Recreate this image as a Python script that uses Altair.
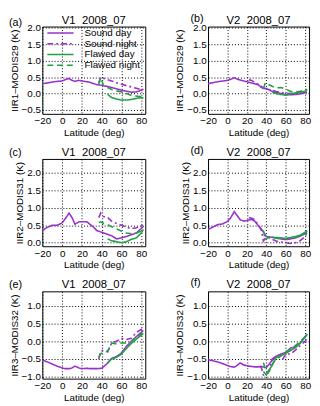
import altair as alt
import pandas as pd

FONT = "Liberation Sans"
SERIES = ["Sound day", "Sound night", "Flawed day", "Flawed night"]
COLORS = ["#9932cc", "#9932cc", "#22a046", "#22a046"]
DASHES = [[1, 0], [6, 3, 2, 3], [1, 0], [6, 4]]

X_TICKS = [-20, 0, 20, 40, 60, 80]

# Latitude grids
LAT_DAY = [-20, -15, -10, -5, 0, 3, 7, 10, 13, 17, 20, 25, 28, 32, 35, 40, 45, 50, 55, 60, 65, 70, 75, 80, 82]
LAT_NIGHT_V1 = [37, 39, 42, 46, 50, 55, 60, 65, 70, 75, 80, 82]
LAT_NIGHT_V2 = [22, 25, 28, 32, 35, 37, 40, 43, 46, 50, 55, 60, 65, 70, 75, 80, 82]
LAT_NIGHT_F = [33, 35, 37, 40, 43, 46, 50, 55, 57, 60, 65, 70, 75, 80, 82]
LAT_FLAWED_DAY = [46, 48, 50, 55, 60, 65, 70, 75, 80, 82]
LAT_FLAWED_DAY_F = [37, 40, 43, 46, 50, 55, 60, 65, 70, 75, 80, 82]
LAT_FLAWED_NIGHT = [37, 39, 42, 46, 50, 55, 60, 65, 70, 75, 80, 82]

# (a) V1 IIR1-MODIS29
A_SOUND_DAY = [0.30, 0.32, 0.35, 0.37, 0.38, 0.42, 0.46, 0.40, 0.37, 0.40, 0.38, 0.36, 0.34, 0.30, 0.27, 0.25, 0.22, 0.18, 0.14, 0.10, 0.07, 0.04, 0.05, 0.10, 0.13]
A_SOUND_NIGHT = [0.32, 0.50, 0.46, 0.42, 0.38, 0.33, 0.28, 0.24, 0.20, 0.16, 0.12, 0.12]
A_FLAWED_DAY = [-0.02, -0.08, -0.12, -0.17, -0.20, -0.20, -0.18, -0.15, -0.12, -0.15]
A_FLAWED_NIGHT = [0.28, 0.48, 0.22, 0.18, 0.12, 0.08, 0.05, 0.0, -0.06, -0.08, -0.10, -0.12]

# (b) V2 IIR1-MODIS29
B_SOUND_DAY = [0.30, 0.33, 0.36, 0.38, 0.40, 0.43, 0.48, 0.44, 0.41, 0.38, 0.36, 0.32, 0.30, 0.26, 0.18, 0.15, 0.08, 0.03, 0.0, -0.04, -0.04, -0.03, -0.01, 0.03, 0.04]
B_SOUND_NIGHT = [0.42, 0.40, 0.33, 0.28, 0.22, 0.15, 0.14, 0.12, 0.10, 0.06, 0.03, 0.01, 0.0, 0.0, 0.01, 0.04, 0.06]
B_FLAWED_DAY = [0.06, 0.02, 0.0, -0.03, -0.05, -0.01, 0.02, 0.04, 0.07, 0.10]
B_FLAWED_NIGHT = [0.15, 0.33, 0.28, 0.22, 0.17, 0.18, 0.14, 0.06, 0.05, 0.07, 0.10, 0.13]

# (c) V1 IIR2-MODIS31
C_SOUND_DAY = [0.35, 0.44, 0.50, 0.50, 0.57, 0.68, 0.85, 0.72, 0.53, 0.60, 0.60, 0.60, 0.53, 0.44, 0.35, 0.30, 0.25, 0.20, 0.11, 0.14, 0.18, 0.23, 0.28, 0.41, 0.46]
C_SOUND_NIGHT = [0.72, 0.85, 0.75, 0.72, 0.62, 0.55, 0.50, 0.45, 0.40, 0.43, 0.48, 0.52]
C_FLAWED_DAY = [0.12, 0.08, 0.06, 0.03, 0.0, 0.03, 0.10, 0.14, 0.28, 0.38]
C_FLAWED_NIGHT = [0.58, 0.60, 0.55, 0.52, 0.46, 0.40, 0.33, 0.28, 0.26, 0.28, 0.33, 0.37]

# (d) V2 IIR2-MODIS31
D_SOUND_DAY = [0.38, 0.45, 0.52, 0.54, 0.61, 0.70, 0.89, 0.78, 0.66, 0.62, 0.64, 0.67, 0.62, 0.48, 0.39, 0.18, 0.16, 0.14, 0.11, 0.09, 0.11, 0.14, 0.19, 0.26, 0.28]
D_SOUND_NIGHT = [0.72, 0.70, 0.66, 0.50, 0.35, 0.05, 0.16, 0.14, 0.10, 0.05, 0.02, 0.0, -0.02, 0.0, 0.06, 0.18, 0.30]
D_FLAWED_DAY = [0.16, 0.15, 0.15, 0.14, 0.12, 0.15, 0.18, 0.22, 0.30, 0.35]
D_FLAWED_NIGHT = [0.35, 0.08, 0.16, 0.15, 0.13, 0.12, 0.12, 0.13, 0.16, 0.20, 0.26, 0.33]

# (e) V1 IIR3-MODIS32
E_SOUND_DAY = [-0.53, -0.58, -0.64, -0.70, -0.75, -0.77, -0.77, -0.75, -0.70, -0.75, -0.77, -0.76, -0.77, -0.77, -0.77, -0.76, -0.64, -0.48, -0.43, -0.33, -0.14, 0.0, 0.13, 0.25, 0.30]
E_SOUND_NIGHT = [-0.50, -0.28, -0.25, -0.30, -0.05, 0.0, 0.08, 0.05, 0.08, 0.25, 0.33, 0.38]
E_FLAWED_DAY = [-0.62, -0.55, -0.50, -0.45, -0.36, -0.20, -0.06, 0.06, 0.17, 0.22]
E_FLAWED_NIGHT = [-0.45, -0.35, -0.32, -0.28, -0.05, -0.08, -0.05, -0.05, 0.0, 0.12, 0.20, 0.26]

# (f) V2 IIR3-MODIS32
F_SOUND_DAY = [-0.52, -0.55, -0.58, -0.63, -0.68, -0.71, -0.73, -0.68, -0.61, -0.67, -0.69, -0.71, -0.72, -0.72, -0.71, -0.74, -0.57, -0.42, -0.36, -0.32, -0.19, -0.16, -0.05, 0.13, 0.20]
F_SOUND_NIGHT = [-0.70, -0.75, -0.95, -0.90, -0.85, -0.50, -0.42, -0.45, -0.50, -0.36, -0.36, -0.25, -0.12, 0.0, 0.10]
F_FLAWED_DAY = [-0.85, -0.95, -0.80, -0.68, -0.46, -0.40, -0.34, -0.26, -0.18, -0.05, 0.12, 0.20]
F_FLAWED_NIGHT = [-0.60, -0.80, -0.88, -0.65, -0.50, -0.42, -0.30, -0.22, -0.12, 0.0, 0.12, 0.18]

W_LEFT = 105
W_RIGHT = 103
H = 89


def panel(letter, title, ytitle, ydomain, yticks, data, width, label_x, label_y, show_legend=False):
    rows = []
    for name, lats, vals in data:
        for la, v in zip(lats, vals):
            rows.append({"series": name, "lat": la, "val": v})
    df = pd.DataFrame(rows)
    if show_legend:
        leg = alt.Legend(orient="none", legendX=4, legendY=1, title=None,
                         symbolType="stroke", symbolSize=720, symbolStrokeWidth=1.6,
                         labelFontSize=10, labelFont=FONT, labelColor="black",
                         labelOffset=10, rowPadding=0, padding=0, clipHeight=11)
    else:
        leg = None
    color = alt.Color("series:N", scale=alt.Scale(domain=SERIES, range=COLORS), legend=leg)
    dash = alt.StrokeDash("series:N", scale=alt.Scale(domain=SERIES, range=DASHES), legend=leg)
    lines = alt.Chart(df).mark_line(strokeWidth=1.6, clip=True).encode(
        x=alt.X("lat:Q", scale=alt.Scale(domain=[-20, 84], nice=False, zero=False),
                axis=alt.Axis(values=X_TICKS, title="Latitude (deg)", format="d",
                              labelFlush=False, labelOverlap=False)),
        y=alt.Y("val:Q", scale=alt.Scale(domain=ydomain, nice=False, zero=False),
                axis=alt.Axis(values=yticks, title=ytitle, format=".1f",
                              labelFlush=False, labelOverlap=False)),
        color=color,
        strokeDash=dash,
        order=alt.Order("lat:Q"),
    )
    lab = alt.Chart(pd.DataFrame({"t": [letter]})).mark_text(
        align="left", baseline="alphabetic", fontSize=11, font=FONT, color="black"
    ).encode(x=alt.value(label_x), y=alt.value(label_y), text="t:N")
    ttl = alt.Chart(pd.DataFrame({"t": [title]})).mark_text(
        align="center", baseline="alphabetic", fontSize=11.5, font=FONT, color="black"
    ).encode(x=alt.value(width / 2), y=alt.value(-3), text="t:N")
    return alt.layer(lines, lab, ttl).properties(width=width, height=H)


T1 = "V1\u00a0\u00a02008_07"
T2 = "V2\u00a0\u00a02008_07"
Y1 = "IIR1\u2013MODIS29 (K)"
Y2 = "IIR2\u2013MODIS31 (K)"
Y3 = "IIR3\u2013MODIS32 (K)"
YT1 = [-0.5, 0.0, 0.5, 1.0, 1.5, 2.0]
YT2 = [0.0, 0.5, 1.0, 1.5, 2.0]
YT3 = [-1.0, -0.5, 0.0, 0.5, 1.0]
YD1 = [-0.62, 2.04]
YD2 = [-0.1, 2.4]
YD3 = [-1.05, 1.4]

pa = panel("(a)", T1, Y1, YD1, YT1, [
    ("Sound day", LAT_DAY, A_SOUND_DAY), ("Sound night", LAT_NIGHT_V1, A_SOUND_NIGHT),
    ("Flawed day", LAT_FLAWED_DAY, A_FLAWED_DAY), ("Flawed night", LAT_FLAWED_NIGHT, A_FLAWED_NIGHT)],
    W_LEFT, -34, -1, show_legend=True)
pb = panel("(b)", T2, Y1, YD1, YT1, [
    ("Sound day", LAT_DAY, B_SOUND_DAY), ("Sound night", LAT_NIGHT_V2, B_SOUND_NIGHT),
    ("Flawed day", LAT_FLAWED_DAY, B_FLAWED_DAY), ("Flawed night", LAT_FLAWED_NIGHT, B_FLAWED_NIGHT)],
    W_RIGHT, -18, -5)
pc = panel("(c)", T1, Y2, YD2, YT2, [
    ("Sound day", LAT_DAY, C_SOUND_DAY), ("Sound night", LAT_NIGHT_V1, C_SOUND_NIGHT),
    ("Flawed day", LAT_FLAWED_DAY, C_FLAWED_DAY), ("Flawed night", LAT_FLAWED_NIGHT, C_FLAWED_NIGHT)],
    W_LEFT, -34, -3)
pd_ = panel("(d)", T2, Y2, YD2, YT2, [
    ("Sound day", LAT_DAY, D_SOUND_DAY), ("Sound night", LAT_NIGHT_V2, D_SOUND_NIGHT),
    ("Flawed day", LAT_FLAWED_DAY, D_FLAWED_DAY), ("Flawed night", LAT_FLAWED_NIGHT, D_FLAWED_NIGHT)],
    W_RIGHT, -18, -5)
pe = panel("(e)", T1, Y3, YD3, YT3, [
    ("Sound day", LAT_DAY, E_SOUND_DAY), ("Sound night", LAT_NIGHT_V1, E_SOUND_NIGHT),
    ("Flawed day", LAT_FLAWED_DAY, E_FLAWED_DAY), ("Flawed night", LAT_FLAWED_NIGHT, E_FLAWED_NIGHT)],
    W_LEFT, -34, -3)
pf = panel("(f)", T2, Y3, YD3, YT3, [
    ("Sound day", LAT_DAY, F_SOUND_DAY), ("Sound night", LAT_NIGHT_F, F_SOUND_NIGHT),
    ("Flawed day", LAT_FLAWED_DAY_F, F_FLAWED_DAY), ("Flawed night", LAT_FLAWED_NIGHT, F_FLAWED_NIGHT)],
    W_RIGHT, -18, -5)


def row(left, right):
    return alt.hconcat(left, right, spacing=64, bounds="flush").resolve_scale(
        x="independent", y="independent", color="independent", strokeDash="independent"
    ).resolve_legend(color="independent", strokeDash="independent")


chart = alt.vconcat(row(pa, pb), row(pc, pd_), row(pe, pf), spacing=6).resolve_scale(
    x="independent", y="independent", color="independent", strokeDash="independent"
).resolve_legend(color="independent", strokeDash="independent").properties(padding=0).configure_axis(
    labelFont=FONT, labelFontSize=10, labelColor="black", labelPadding=2,
    titleFont=FONT, titleFontSize=10, titleFontWeight="normal", titleColor="black", titlePadding=2,
    ticks=False, tickSize=0, domain=False,
    grid=True, gridColor="black", gridDash=[1, 2], gridOpacity=1, gridWidth=1,
).configure_view(stroke="black", strokeWidth=1)

chart.save("out.html", embed_options={"renderer": "svg", "actions": False})
